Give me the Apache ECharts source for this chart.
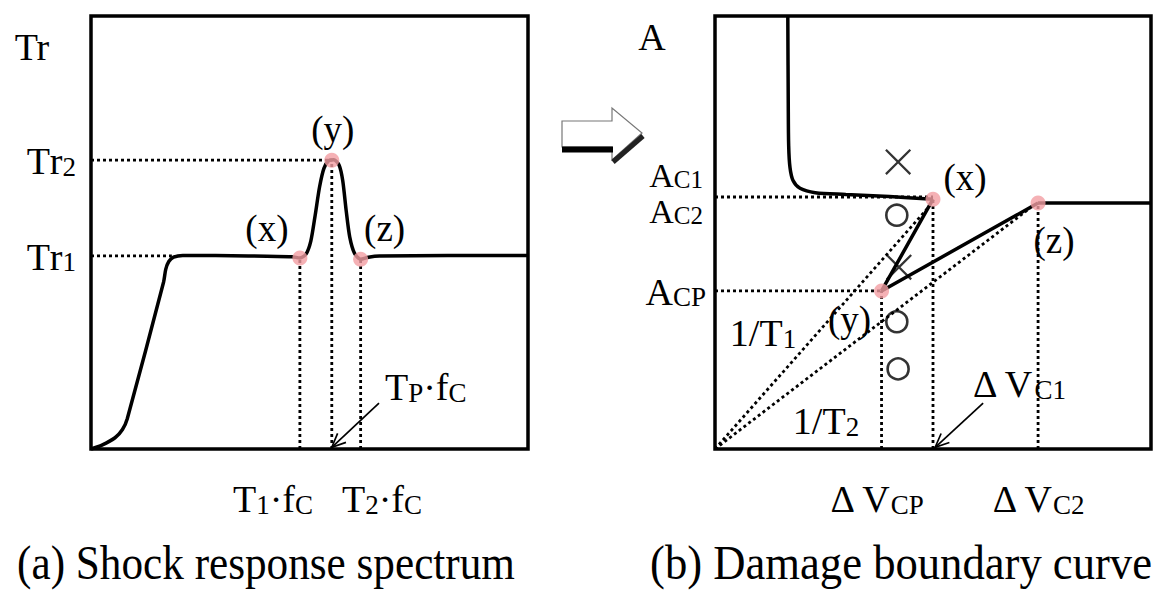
<!DOCTYPE html>
<html><head><meta charset="utf-8">
<script src="https://cdn.jsdelivr.net/npm/echarts@6/dist/echarts.min.js"></script>
<style>html,body{margin:0;padding:0;background:#fff}#c{width:1156px;height:592px}</style>
</head><body><div id="c"></div>
<script>
// ---------- Panel (a): shock response spectrum (normalised 0-100 units) ----------
const srsCurve = [[0,0],[2.5,0.9],[5.5,2.6],[7.2,4.5],[8.3,7],[16.6,38.5],[17.1,41.5],[17.8,43.3],[18.9,44.3],[21,44.7],[36,44.6],[46,44.4],[47.8,44.1],[49.2,45],[50.3,48],[51.3,54],[52.3,60.5],[53.3,64.8],[54.4,66.6],[55.6,66.8],[56.8,65.5],[57.6,62],[58.4,55],[59.2,49],[60.3,45.2],[61.7,43.8],[63.5,44.3],[66,44.6],[100,44.7]];
const srsPoints = [[47.8,44.1],[55.1,66.7],[61.7,43.8]];
const srsPointNames = ['(x)','(y)','(z)'];
const trLevels = [44.6, 66.7];
const trLevelEnds = [18.5, 55.1];
const trLabels = [['T','r','1'],['T','r','2']];
const freqLines = [[47.8,44.1],[55.1,66.7],[61.7,43.8]];
const freqLabels = [['T','1','·f','C'],['T','2','·f','C']];
const tpArrow = [[65.9,10.6],[55.1,0.4]];

// ---------- Panel (b): damage boundary curve ----------
const dbcCurve = [[16.7,100],[16.8,80],[16.9,70],[17.2,65.0],[17.9,62.0],[19.5,60.2],[23,59.2],[30,58.8],[40,58.3],[50,57.7]];
const dbcPoints = [[50,57.7],[38.2,36.5],[74.1,56.8]];
const dbcPointNames = ['(x)','(y)','(z)'];
const dbcPlateau = [[74.1,56.8],[100,56.8]];
const slopeEnds = [[49.3,56.2],[72.2,55.6]];
const slopeLabels = [['1/T','1'],['1/T','2']];
const aLevels = [58.2, 36.5];
const aLevelEnds = [50, 38.2];
const crossMarks = [[42.0,66.3],[42.2,42.0]];
const circleMarks = [[41.7,54.0],[41.7,29.4],[42.0,18.5]];
const dvArrow = [[61.5,10.6],[50.5,0.4]];

const FONT = '"Liberation Serif","Times New Roman",serif';
const chart = echarts.init(document.getElementById('c'), null, {renderer:'svg'});

const BLACK = '#000';
function seg(gi, data, dotted, width){
  return {type:'line', xAxisIndex:gi, yAxisIndex:gi, data:data, symbol:'none', silent:true, clip:false,
    lineStyle:{color:BLACK, width: width || (dotted?2.8:3.5), type: dotted?[3,3]:'solid', cap:'butt'}, z: dotted?2:3};
}
const series = [];
// panel a
series.push(Object.assign(seg(0, srsCurve, false), {smooth:0.25}));
trLevels.forEach((v,i)=>series.push(seg(0, [[0,v],[trLevelEnds[i],v]], true)));
freqLines.forEach(p=>series.push(seg(0, [[p[0],0],[p[0],p[1]]], true)));
series.push({type:'scatter', xAxisIndex:0, yAxisIndex:0, data:srsPoints, symbolSize:15, itemStyle:{color:'#f39ea2'}, z:5, silent:true});
// panel b
series.push(Object.assign(seg(1, dbcCurve, false), {smooth:0.3}));
series.push(seg(1, dbcPlateau, false));
series.push(seg(1, dbcPoints, false));
aLevels.forEach((v,i)=>series.push(seg(1, [[0,v],[aLevelEnds[i],v]], true)));
dbcPoints.forEach(p=>series.push(seg(1, [[p[0],0],[p[0],p[1]]], true)));
slopeEnds.forEach(p=>series.push(seg(1, [[0,0],p], true)));
series.push({type:'scatter', xAxisIndex:1, yAxisIndex:1, data:crossMarks, symbolSize:26, silent:true, z:4,
  symbol:'path://M0,1.6L1.6,0L13,11.4L24.4,0L26,1.6L14.6,13L26,24.4L24.4,26L13,14.6L1.6,26L0,24.4L11.4,13Z', itemStyle:{color:BLACK}});
series.push({type:'scatter', xAxisIndex:1, yAxisIndex:1, data:circleMarks, symbolSize:21, silent:true, z:4,
  symbol:'circle', itemStyle:{color:'rgba(0,0,0,0)', borderColor:BLACK, borderWidth:2.6}});
series.push({type:'scatter', xAxisIndex:1, yAxisIndex:1, data:dbcPoints, symbolSize:15, itemStyle:{color:'#f39ea2'}, z:5, silent:true});

const axisBase = {type:'value', min:0, max:100, show:false, splitLine:{show:false}};
chart.setOption({
  animation:false,
  backgroundColor:'#fff',
  grid:[
    {left:91, top:16, width:437, height:433, show:true, borderColor:BLACK, borderWidth:3.5, backgroundColor:'#fff'},
    {left:715, top:16, width:436, height:433, show:true, borderColor:BLACK, borderWidth:3.5, backgroundColor:'#fff'}
  ],
  xAxis:[Object.assign({gridIndex:0}, axisBase), Object.assign({gridIndex:1}, axisBase)],
  yAxis:[Object.assign({gridIndex:0}, axisBase), Object.assign({gridIndex:1}, axisBase)],
  series: series
});

// ---------- text & annotation graphics ----------
function mkRich(M, S, LM){
  const LS = 2*(0.33*S + LM/2 - 0.33*M);
  return {
    m:{fontSize:M, fontFamily:FONT, lineHeight:LM, verticalAlign:'bottom', fill:BLACK, color:BLACK},
    s:{fontSize:S, fontFamily:FONT, lineHeight:LS, verticalAlign:'bottom', fill:BLACK, color:BLACK}
  };
}
const richN = mkRich(38, 27, 40);
const richA = mkRich(34, 25, 34);
function rt(parts, smallIdx){
  return parts.map((p,i)=> (smallIdx.indexOf(i)>=0 ? '{s|' : '{m|') + p + '}').join('');
}
function txt(x, y, text, align, rich){
  return {type:'text', x:x, y:y, silent:true, z:100,
    style:{text:text, rich:rich||richN, font:'38px '+FONT, fill:BLACK, align:align||'center', textAlign:align||'center',
      verticalAlign:'middle', textVerticalAlign:'middle'}};
}
function plain(x, y, text, size, align){
  return {type:'text', x:x, y:y, silent:true, z:100,
    style:{text:text, font:size+'px '+FONT, fill:BLACK, align:align||'center', textAlign:align||'center',
      verticalAlign:'middle', textVerticalAlign:'middle'}};
}
const px = (gi, p) => chart.convertToPixel({gridIndex:gi}, p);
function arrowG(gi, from, to){
  const a = px(gi, from), b = px(gi, to);
  const ang = Math.atan2(b[1]-a[1], b[0]-a[0]);
  const L = 15, W = 0.42;
  const h1 = [b[0]-L*Math.cos(ang-W), b[1]-L*Math.sin(ang-W)];
  const h2 = [b[0]-L*Math.cos(ang+W), b[1]-L*Math.sin(ang+W)];
  const st = {stroke:BLACK, lineWidth:1.7, fill:null};
  return [{type:'polyline', shape:{points:[a,b]}, style:st, silent:true, z:90},
          {type:'polyline', shape:{points:[h1,b,h2]}, style:st, silent:true, z:90}];
}
const g = [];
// axis titles
g.push(plain(32, 47, 'Tr', 38));
g.push(plain(652, 37, 'A', 38));
// Tr levels
trLevels.forEach((v,i)=>{ const p = px(0,[0,v]); g.push(txt(76, p[1], rt(trLabels[i],[2]), 'right')); });
// point labels panel a
const offA = [[-33,-30],[1,-31],[24,-31]];
srsPoints.forEach((p,i)=>{ const q = px(0,p); g.push(plain(q[0]+offA[i][0], q[1]+offA[i][1], srsPointNames[i], 37)); });
// bottom labels panel a
g.push(txt(273, 498, rt(freqLabels[0],[1,3])));
g.push(txt(382, 498, rt(freqLabels[1],[1,3])));
// TP fC
g.push(txt(385, 386, rt(['T','P','·f','C'],[1,3]), 'left'));
arrowG(0, tpArrow[0], tpArrow[1]).forEach(e=>g.push(e));
// panel b level labels
g.push(txt(703, 175, rt(['A','C1'],[1]), 'right', richA));
g.push(txt(703, 211, rt(['A','C2'],[1]), 'right', richA));
{ const p = px(1,[0,aLevels[1]]); g.push(txt(706, p[1], rt(['A','CP'],[1]), 'right')); }
// point labels panel b
const offB = [[32,-22],[-32,29],[16,37]];
dbcPoints.forEach((p,i)=>{ const q = px(1,p); g.push(plain(q[0]+offB[i][0], q[1]+offB[i][1], dbcPointNames[i], 37)); });
// slope labels
g.push(txt(763, 332, rt(slopeLabels[0],[1])));
g.push(txt(826, 420, rt(slopeLabels[1],[1])));
// Delta V labels
g.push(txt(973, 383, rt(['Δ V','C1'],[1]), 'left'));
arrowG(1, dvArrow[0], dvArrow[1]).forEach(e=>g.push(e));
{ const p = px(1,[dbcPoints[1][0],0]); g.push(txt(p[0]-5, 498, rt(['Δ V','CP'],[1]))); }
{ const p = px(1,[dbcPoints[2][0],0]); g.push(txt(p[0], 498, rt(['Δ V','C2'],[1]))); }
// captions
const capA = plain(266, 563, '(a) Shock response spectrum', 48); capA.scaleX = 0.9;
const capB = plain(1152, 563, '(b) Damage boundary curve', 48, 'right'); capB.scaleX = 0.93;
g.push(capA, capB);
// hollow arrow between panels
g.push({type:'polygon', silent:true, z:50, shape:{points:[[562,121],[612,121],[612,108],[642,133],[612,160],[612,147],[562,147]]},
  style:{fill:'#fff', stroke:'#777', lineWidth:1.2}});
g.push({type:'polyline', silent:true, z:51, shape:{points:[[562,149.5],[613,149.5]]}, style:{stroke:BLACK, lineWidth:6, fill:null}});
g.push({type:'polyline', silent:true, z:51, shape:{points:[[613,162],[643,136]]}, style:{stroke:'#222', lineWidth:5, fill:null}});

chart.setOption({graphic:{elements:g}});
</script></body></html>
